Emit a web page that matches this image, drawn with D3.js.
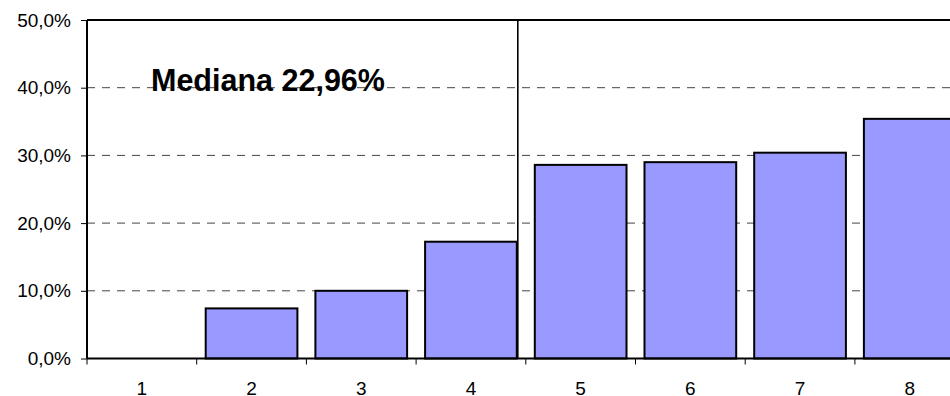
<!DOCTYPE html>
<html>
<head>
<meta charset="utf-8">
<script src="https://cdn.jsdelivr.net/npm/d3@7"></script>
<style>
  html, body { margin: 0; padding: 0; background: #fff; }
  svg { display: block; }
  text { font-family: "Liberation Sans", Arial, sans-serif; }
</style>
</head>
<body>
<svg id="chart" width="950" height="396"></svg>
<script>
const categories = ["1", "2", "3", "4", "5", "6", "7", "8"];
const values = [0, 0.074, 0.100, 0.1725, 0.286, 0.290, 0.304, 0.354];
const yTicks = [0, 0.1, 0.2, 0.3, 0.4, 0.5];
const medianLabel = "Mediana 22,96%";
const medianAfter = "4";

(function () {
const svg = d3.select("#chart");
const pLeft = 87, pTop = 20, pBottom = 358.5, step = 109.7;
const pRight = pLeft + categories.length * step;

const x = d3.scaleBand()
  .domain(categories)
  .range([pLeft, pRight])
  .paddingInner(0.164)
  .paddingOuter(0.082);

const y = d3.scaleLinear().domain([0, 0.5]).range([pBottom, pTop]);

// gridlines
svg.append("g").selectAll("line")
  .data(yTicks.filter(d => d > 0 && d < 0.5))
  .join("line")
  .attr("x1", pLeft).attr("x2", 950)
  .attr("y1", d => y(d)).attr("y2", d => y(d))
  .attr("stroke", "#444").attr("stroke-width", 1)
  .attr("stroke-dasharray", "8,7");

// bars
svg.append("g").selectAll("rect")
  .data(categories.filter((c, i) => values[i] > 0))
  .join("rect")
  .attr("x", c => x(c))
  .attr("width", x.bandwidth())
  .attr("y", c => y(values[categories.indexOf(c)]))
  .attr("height", c => pBottom - y(values[categories.indexOf(c)]))
  .attr("fill", "#9999FF")
  .attr("stroke", "#000")
  .attr("stroke-width", 2);

// median vertical line
const mx = x(medianAfter) + x.bandwidth() + 1;
svg.append("line")
  .attr("x1", mx).attr("x2", mx)
  .attr("y1", pTop).attr("y2", pBottom)
  .attr("stroke", "#000").attr("stroke-width", 1.6);

// top border
svg.append("line")
  .attr("x1", pLeft).attr("x2", 950)
  .attr("y1", pTop).attr("y2", pTop)
  .attr("stroke", "#000").attr("stroke-width", 2);

// y axis
const yAxis = svg.append("g")
  .attr("transform", `translate(${pLeft},0)`)
  .call(d3.axisLeft(y).tickValues(yTicks).tickSize(6).tickPadding(10)
    .tickFormat(d => (d * 100).toFixed(1).replace(".", ",") + "%"));
yAxis.select(".domain").attr("stroke", "#000").attr("stroke-width", 2)
  .attr("d", `M0,${pTop}V${pBottom}`);
yAxis.selectAll(".tick line").attr("stroke", "#000").attr("stroke-width", 1);
yAxis.selectAll("text").attr("font-size", 19).attr("fill", "#000")
  .style("font-family", "'Liberation Sans', Arial, sans-serif");

// x axis (labels at band centres, ticks at boundaries)
const xAxis = svg.append("g")
  .attr("transform", `translate(0,${pBottom})`)
  .call(d3.axisBottom(x).tickSize(0).tickPadding(23));
xAxis.select(".domain").attr("stroke", "#000").attr("stroke-width", 2)
  .attr("d", `M${pLeft},0H950`);
xAxis.selectAll("text").attr("font-size", 19).attr("fill", "#000")
  .style("font-family", "'Liberation Sans', Arial, sans-serif");
const bounds = d3.range(categories.length + 1).map(i => x(categories[0]) - x.paddingOuter() * x.step() + i * x.step());
xAxis.selectAll(".bnd").data(bounds).join("line")
  .attr("class", "bnd")
  .attr("x1", d => d).attr("x2", d => d)
  .attr("y1", 0).attr("y2", 6)
  .attr("stroke", "#000").attr("stroke-width", 1);

// median label
svg.append("text")
  .attr("x", 151).attr("y", 91)
  .attr("font-size", 30.5).attr("font-weight", "bold")
  .attr("fill", "#000")
  .text(medianLabel);
})();
</script>
</body>
</html>
